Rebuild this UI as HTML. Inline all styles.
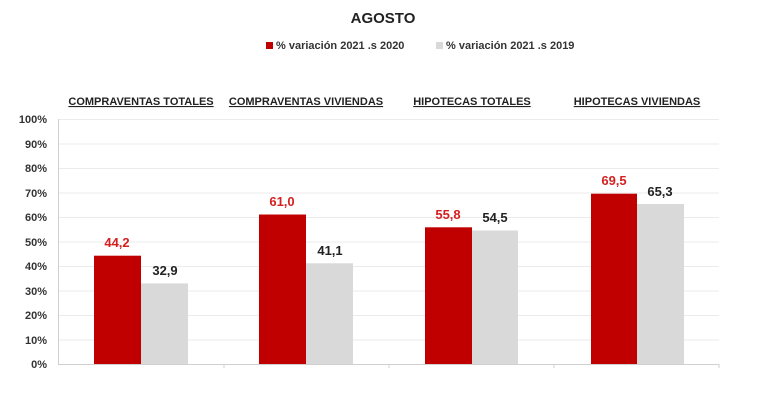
<!DOCTYPE html>
<html><head><meta charset="utf-8"><style>
html,body{margin:0;padding:0;background:#fff;}
svg{display:block;font-family:"Liberation Sans",Arial,sans-serif;font-weight:bold;}
</style></head><body>
<svg width="766" height="411" viewBox="0 0 766 411" xmlns="http://www.w3.org/2000/svg">
<rect width="766" height="411" fill="#fff"/>
<text x="383" y="23" font-size="15" text-anchor="middle" fill="#222">AGOSTO</text>
<rect x="266" y="42" width="7" height="7" fill="#c00000"/>
<text x="276" y="49" font-size="11" fill="#333">% variación 2021  .s 2020</text>
<rect x="436" y="42" width="7" height="7" fill="#d9d9d9"/>
<text x="446" y="49" font-size="11" fill="#333">% variación 2021 .s 2019</text>
<g stroke="#ebebeb" stroke-width="1">
<line x1="58" x2="719" y1="119.5" y2="119.5"/><line x1="58" x2="719" y1="144" y2="144"/>
<line x1="58" x2="719" y1="168.5" y2="168.5"/><line x1="58" x2="719" y1="193" y2="193"/>
<line x1="58" x2="719" y1="217.5" y2="217.5"/><line x1="58" x2="719" y1="242" y2="242"/>
<line x1="58" x2="719" y1="266.5" y2="266.5"/><line x1="58" x2="719" y1="291" y2="291"/>
<line x1="58" x2="719" y1="315.5" y2="315.5"/><line x1="58" x2="719" y1="340" y2="340"/>
</g>
<line x1="58.5" x2="58.5" y1="119" y2="364" stroke="#d0d0d0"/>
<line x1="58" x2="719" y1="364.5" y2="364.5" stroke="#d0d0d0"/>
<g stroke="#d0d0d0"><line x1="224" x2="224" y1="364" y2="368"/><line x1="389" x2="389" y1="364" y2="368"/><line x1="554" x2="554" y1="364" y2="368"/><line x1="719" x2="719" y1="364" y2="368"/></g>
<g font-size="11" fill="#333" text-anchor="end">
<text x="47" y="123">100%</text><text x="47" y="148">90%</text><text x="47" y="172">80%</text>
<text x="47" y="197">70%</text><text x="47" y="221">60%</text><text x="47" y="246">50%</text>
<text x="47" y="270">40%</text><text x="47" y="295">30%</text><text x="47" y="319">20%</text>
<text x="47" y="344">10%</text><text x="47" y="368">0%</text>
</g>
<g font-size="11" fill="#222" text-anchor="middle" text-decoration="underline">
<text x="141" y="105">COMPRAVENTAS TOTALES</text>
<text x="306" y="105">COMPRAVENTAS VIVIENDAS</text>
<text x="472" y="105">HIPOTECAS TOTALES</text>
<text x="637" y="105">HIPOTECAS VIVIENDAS</text>
</g>
<g fill="#c00000">
<rect x="94" y="255.7" width="47" height="108.3"/>
<rect x="259" y="214.5" width="47" height="149.5"/>
<rect x="425" y="227.3" width="47" height="136.7"/>
<rect x="591" y="193.7" width="46" height="170.3"/>
</g>
<g fill="#d9d9d9">
<rect x="141" y="283.4" width="47" height="80.6"/>
<rect x="306" y="263.3" width="47" height="100.7"/>
<rect x="472" y="230.5" width="46" height="133.5"/>
<rect x="637" y="204" width="47" height="160"/>
</g>
<g font-size="13" text-anchor="middle">
<text x="117" y="247" fill="#d42020">44,2</text>
<text x="165" y="275" fill="#222">32,9</text>
<text x="282" y="206" fill="#d42020">61,0</text>
<text x="330" y="255" fill="#222">41,1</text>
<text x="448" y="219" fill="#d42020">55,8</text>
<text x="495" y="222" fill="#222">54,5</text>
<text x="614" y="185" fill="#d42020">69,5</text>
<text x="660" y="196" fill="#222">65,3</text>
</g>
</svg>
</body></html>
